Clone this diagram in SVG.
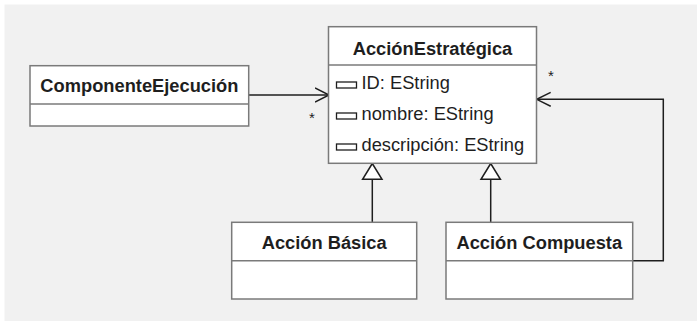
<svg xmlns="http://www.w3.org/2000/svg" width="697" height="321" viewBox="0 0 697 321">
  <style>
    .box { fill: #ffffff; stroke: #7a7a7a; stroke-width: 1.5; }
    .div { stroke: #7a7a7a; stroke-width: 1.5; fill: none; }
    .title { font-family: "Liberation Sans", Arial, sans-serif; font-size: 18.3px; font-weight: bold; fill: #1e1e1e; text-anchor: middle; }
    .attr { font-family: "Liberation Sans", Arial, sans-serif; font-size: 18.3px; fill: #1e1e1e; }
    .icon { fill: #ffffff; stroke: #1e1e1e; stroke-width: 1.3; }
    .edge { fill: none; stroke: #1e1e1e; stroke-width: 1.5; }
    .mult { font-family: "Liberation Sans", Arial, sans-serif; font-size: 15px; fill: #1e1e1e; text-anchor: middle; }
  </style>
  <defs>
    <marker id="open" markerWidth="16" markerHeight="16" refX="14" refY="8" orient="auto" markerUnits="userSpaceOnUse">
      <path d="M0,1 L14,8 L0,15" fill="none" stroke="#1e1e1e" stroke-width="1.5"/>
    </marker>
  </defs>

  <rect x="4.5" y="4.5" width="693" height="317" fill="#f1f1f1"/>

  <g id="connectors">
    <line class="edge" x1="248.7" y1="95" x2="329" y2="95" marker-end="url(#open)"/>
    <text class="mult" x="312" y="123">*</text>
    <polyline class="edge" points="632.7,260.7 663.3,260.7 663.3,99.3 536.7,99.3" marker-end="url(#open)"/>
    <text class="mult" x="551" y="81">*</text>
    <line class="edge" x1="372.3" y1="222.3" x2="372.3" y2="179.3"/>
    <polygon class="edge" style="fill:#ffffff" points="372.3,163.5 362.6,179.3 382,179.3"/>
    <line class="edge" x1="490.7" y1="222.3" x2="490.7" y2="179.3"/>
    <polygon class="edge" style="fill:#ffffff" points="490.7,163.5 481,179.3 500.4,179.3"/>
  </g>

  <g id="accion-estrategica">
    <rect class="box" x="328.5" y="26.7" width="208" height="136.6"/>
    <line class="div" x1="328.5" y1="65" x2="536.5" y2="65"/>
    <text class="title" x="432.5" y="55">AcciónEstratégica</text>
    <rect class="icon" x="336.5" y="82" width="20" height="6"/>
    <text class="attr" x="361.5" y="89">ID: EString</text>
    <rect class="icon" x="336.5" y="113" width="20" height="6"/>
    <text class="attr" x="361.5" y="120">nombre: EString</text>
    <rect class="icon" x="336.5" y="144" width="20" height="6"/>
    <text class="attr" x="361.5" y="151">descripción: EString</text>
  </g>

  <g id="componente-ejecucion">
    <rect class="box" x="30" y="65.7" width="218.7" height="60.3"/>
    <line class="div" x1="30" y1="104" x2="248.7" y2="104"/>
    <text class="title" x="139.4" y="92">ComponenteEjecución</text>
  </g>

  <g id="accion-basica">
    <rect class="box" x="231.7" y="222.3" width="185" height="76.7"/>
    <line class="div" x1="231.7" y1="260.7" x2="416.7" y2="260.7"/>
    <text class="title" x="324.2" y="249">Acción Básica</text>
  </g>

  <g id="accion-compuesta">
    <rect class="box" x="446" y="222.3" width="186.7" height="76.7"/>
    <line class="div" x1="446" y1="260.7" x2="632.7" y2="260.7"/>
    <text class="title" x="539.3" y="249">Acción Compuesta</text>
  </g>
</svg>
